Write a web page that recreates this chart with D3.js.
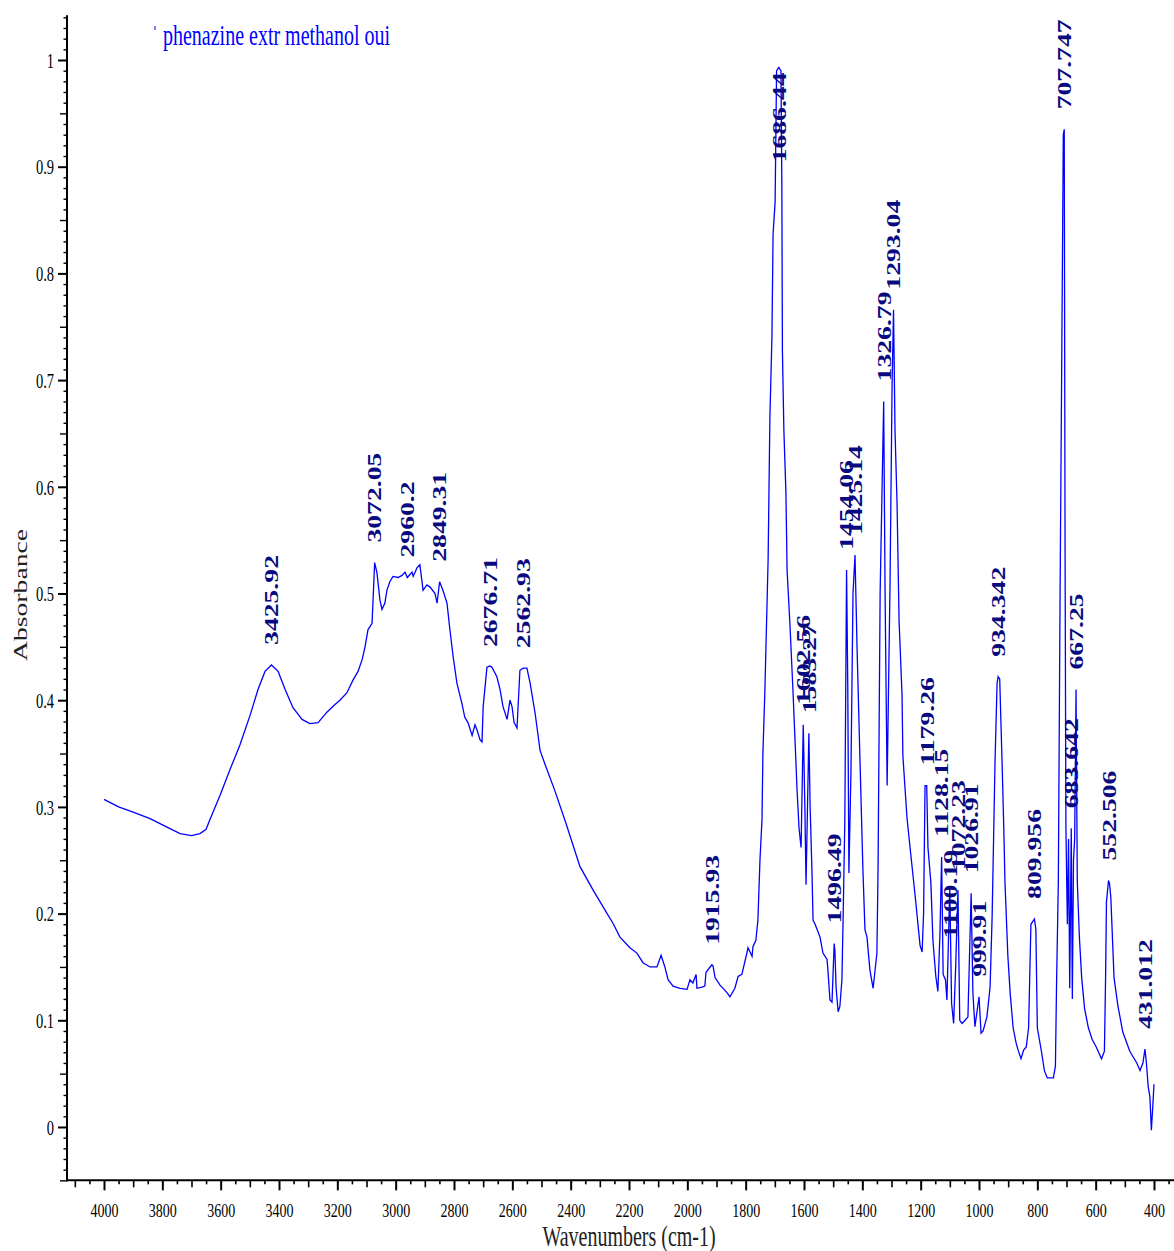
<!DOCTYPE html>
<html>
<head>
<meta charset="utf-8">
<script src="https://cdn.jsdelivr.net/npm/d3@7"></script>
<style>
body { margin: 0; background: #fff; }
text { font-family: "Liberation Serif", "Times New Roman", serif; }
</style>
</head>
<body>
<div id="chart-area"></div>
<script>

// spectrum (cm-1 and absorbance)
var wavenumber = [
	4000, 3950, 3900, 3842, 3784, 3739, 3700, 3671, 3650, 3637, 3602, 3568, 3534, 3499, 3472, 3448, 3425.92, 3403, 3379, 3352,
	3321, 3294, 3266, 3235, 3208, 3191, 3167, 3146, 3129, 3115, 3105, 3095, 3081, 3077, 3072.05, 3064, 3054, 3047, 3037, 3030,
	3020, 3009, 2992, 2978, 2968, 2960.2, 2950, 2944, 2940, 2927, 2917, 2906, 2893, 2882, 2865, 2858, 2849.31, 2838, 2824, 2814,
	2803, 2790, 2773, 2763, 2752, 2738, 2728, 2721, 2711, 2704, 2700, 2687, 2676.71, 2670, 2653, 2642, 2632, 2618, 2608, 2601,
	2594, 2584, 2574, 2562.93, 2550, 2539, 2522, 2505, 2488, 2454, 2419, 2368, 2323, 2275, 2255, 2231, 2197, 2173, 2152, 2128,
	2104, 2090, 2077, 2066, 2049, 2025, 2001, 1991, 1981, 1970, 1967, 1950, 1940, 1936, 1915.93, 1912, 1905, 1888, 1864, 1854,
	1837, 1826, 1813, 1795, 1792, 1778, 1775, 1765, 1758, 1751, 1744, 1741, 1734, 1723, 1717, 1710, 1706, 1699, 1694, 1686.44,
	1679, 1676, 1674, 1669, 1662, 1658, 1648, 1638, 1631, 1624, 1617, 1610, 1602.56, 1597, 1593, 1588, 1583.27, 1579, 1573, 1569,
	1562, 1555, 1545, 1535, 1521, 1518, 1511, 1504, 1496.49, 1494, 1490, 1483, 1477, 1470, 1466, 1460, 1454.06, 1450, 1446, 1439,
	1432, 1425.14, 1418, 1408, 1398, 1391, 1384, 1374, 1363, 1350, 1346, 1339, 1326.79, 1322, 1315, 1305, 1298, 1293.04, 1288, 1281,
	1274, 1264, 1261, 1247, 1233, 1219, 1202, 1195, 1190, 1185, 1179.26, 1175, 1165, 1158, 1148, 1141, 1134, 1128.15, 1123, 1115,
	1110, 1100.19, 1094, 1087, 1080, 1072.23, 1066, 1058, 1048, 1038, 1026.91, 1021, 1014, 999.91, 993, 986, 973, 962, 955, 945,
	938, 934.342, 929, 921, 915, 911, 901, 893, 883, 873, 866, 856, 847, 838, 830, 822, 809.956, 805, 800, 786,
	776, 766, 745, 738, 734, 728, 722, 716, 711, 707.747, 705, 702, 697, 693, 689, 683.642, 680, 676, 672, 667.25,
	663, 656, 648, 638, 625, 612, 598, 580, 570, 566, 563, 556, 552.506, 548, 537, 524, 507, 483, 459, 448,
	438, 431.012, 426, 420, 414, 409, 404, 400
]
var absorbance = [
	0.307, 0.300, 0.295, 0.289, 0.281, 0.275, 0.273, 0.275, 0.279, 0.288, 0.311, 0.335, 0.358, 0.386, 0.410, 0.427, 0.433, 0.427, 0.410, 0.393,
	0.382, 0.378, 0.379, 0.389, 0.396, 0.400, 0.407, 0.419, 0.427, 0.438, 0.450, 0.466, 0.472, 0.497, 0.529, 0.519, 0.494, 0.485, 0.491, 0.503,
	0.511, 0.516, 0.515, 0.517, 0.520, 0.515, 0.518, 0.520, 0.516, 0.524, 0.527, 0.503, 0.508, 0.506, 0.500, 0.491, 0.511, 0.503, 0.491, 0.466,
	0.441, 0.416, 0.397, 0.384, 0.379, 0.367, 0.377, 0.372, 0.363, 0.361, 0.394, 0.431, 0.432, 0.431, 0.422, 0.410, 0.394, 0.382, 0.400, 0.394,
	0.379, 0.374, 0.428, 0.430, 0.430, 0.416, 0.388, 0.353, 0.340, 0.315, 0.287, 0.244, 0.222, 0.200, 0.191, 0.178, 0.168, 0.163, 0.154, 0.150,
	0.150, 0.161, 0.150, 0.138, 0.132, 0.130, 0.129, 0.138, 0.135, 0.143, 0.130, 0.131, 0.132, 0.145, 0.152, 0.151, 0.140, 0.133, 0.126, 0.122,
	0.130, 0.141, 0.143, 0.164, 0.168, 0.160, 0.169, 0.175, 0.194, 0.250, 0.288, 0.349, 0.410, 0.532, 0.664, 0.740, 0.837, 0.867, 0.990, 0.993,
	0.990, 0.885, 0.727, 0.653, 0.595, 0.522, 0.470, 0.410, 0.364, 0.317, 0.280, 0.262, 0.377, 0.300, 0.227, 0.300, 0.369, 0.300, 0.243, 0.194,
	0.190, 0.185, 0.178, 0.163, 0.157, 0.147, 0.119, 0.117, 0.172, 0.165, 0.131, 0.108, 0.113, 0.138, 0.194, 0.288, 0.522, 0.416, 0.238, 0.333,
	0.500, 0.536, 0.448, 0.343, 0.241, 0.185, 0.178, 0.147, 0.130, 0.163, 0.244, 0.500, 0.680, 0.500, 0.320, 0.510, 0.695, 0.766, 0.653, 0.585,
	0.474, 0.406, 0.348, 0.290, 0.253, 0.217, 0.170, 0.164, 0.200, 0.320, 0.320, 0.262, 0.229, 0.175, 0.141, 0.127, 0.180, 0.253, 0.143, 0.138,
	0.119, 0.224, 0.116, 0.097, 0.150, 0.222, 0.100, 0.097, 0.100, 0.103, 0.219, 0.126, 0.094, 0.122, 0.088, 0.090, 0.103, 0.131, 0.197, 0.343,
	0.416, 0.422, 0.420, 0.343, 0.280, 0.230, 0.160, 0.125, 0.093, 0.079, 0.072, 0.064, 0.072, 0.075, 0.093, 0.190, 0.195, 0.185, 0.093, 0.071,
	0.053, 0.046, 0.046, 0.057, 0.136, 0.229, 0.500, 0.730, 0.930, 0.935, 0.550, 0.280, 0.190, 0.270, 0.130, 0.280, 0.120, 0.250, 0.270, 0.410,
	0.230, 0.179, 0.140, 0.111, 0.093, 0.082, 0.075, 0.064, 0.071, 0.140, 0.211, 0.231, 0.228, 0.215, 0.140, 0.114, 0.089, 0.071, 0.060, 0.053,
	0.060, 0.073, 0.060, 0.038, 0.028, -0.003, 0.020, 0.040
]

// peak picks
var peakLabels = ["3425.92", "3072.05", "2960.2", "2849.31", "2676.71", "2562.93", "1915.93", "1686.44", "1602.56", "1583.27",
	"1496.49", "1454.06", "1425.14", "1326.79", "1293.04", "1179.26", "1128.15", "1100.19", "1072.23", "1026.91",
	"999.91", "934.342", "809.956", "707.747", "683.642", "667.25", "552.506", "431.012"]
var peakHeights = [0.433, 0.529, 0.515, 0.511, 0.431, 0.430, 0.152, 0.993, 0.377, 0.369,
	0.172, 0.522, 0.536, 0.680, 0.766, 0.320, 0.253, 0.158, 0.222, 0.219,
	0.122, 0.422, 0.195, 0.935, 0.280, 0.410, 0.231, 0.073]

var xTicks = [4000, 3800, 3600, 3400, 3200, 3000, 2800, 2600, 2400, 2200, 2000, 1800, 1600, 1400, 1200, 1000, 800, 600, 400]
var yTicks = [0, 0.1, 0.2, 0.3, 0.4, 0.5, 0.6, 0.7, 0.8, 0.9, 1]

var titleText = "phenazine extr methanol oui"
var xTitle = "Wavenumbers (cm-1)"
var yTitle = "Absorbance"

var canvasWidth = 1174
var canvasHeight = 1251
var stretch = 1.42   // the picture is taller than it is wide, text included

var x = d3.scaleLinear()
	.domain([4000, 400])
	.range([104, 1154])

var y = d3.scaleLinear()
	.domain([0, 1])
	.range([1127, 60])

var axisLeftX = 67
var axisBottomY = y(-0.05)

var svg = d3.select("#chart-area")
	.append("svg")
	.attr("width", canvasWidth)
	.attr("height", canvasHeight)

// ---- x axis
function xAxisLayer(values, size, labels) {
	var ax = d3.axisBottom(x)
		.tickValues(values)
		.tickSize(size)
		.tickFormat(labels ? d3.format("d") : "")
	var g = svg.append("g")
		.attr("transform", "translate(0," + axisBottomY + ")")
		.call(ax)
	g.select(".domain").remove()
	g.selectAll("line").attr("stroke", "#000").attr("stroke-width", labels ? 2 : 1.6)
	return g
}

var xMinor = d3.range(4100, 349, -50).filter(function(d){ return d % 100 != 0 })
var xMid = d3.range(4100, 349, -100).filter(function(d){ return d % 200 != 0 })
xAxisLayer(xMinor, 4, false)
xAxisLayer(xMid, 7, false)
var xg = xAxisLayer(xTicks, 10, true)
xg.selectAll("text")
	.attr("y", null)
	.attr("dy", "0.35em")
	.attr("transform", "translate(0,30) scale(1," + stretch + ")")
	.attr("fill", "#000")
	.attr("font-size", "14px")

svg.append("line")
	.attr("x1", axisLeftX - 1).attr("x2", canvasWidth)
	.attr("y1", axisBottomY).attr("y2", axisBottomY)
	.attr("stroke", "#000").attr("stroke-width", 2)

// ---- y axis
function yAxisLayer(values, size, labels) {
	var ax = d3.axisLeft(y)
		.tickValues(values)
		.tickSize(size)
		.tickFormat(labels ? d3.format("~g") : "")
	var g = svg.append("g")
		.attr("transform", "translate(" + axisLeftX + ",0)")
		.call(ax)
	g.select(".domain").remove()
	g.selectAll("line").attr("stroke", "#000").attr("stroke-width", labels ? 2 : 1.4)
	return g
}

var yAll = d3.range(-5, 105).map(function(d){ return d / 100 })
yAxisLayer(yAll.filter(function(d, i){ return (i % 5) != 0 }), 3.5, false)
yAxisLayer(yAll.filter(function(d, i){ return (i % 5) == 0 && (i % 10) != 5 }), 7, false)
var yg = yAxisLayer(yTicks, 9, true)
yg.selectAll("text")
	.attr("x", null)
	.attr("dy", "0.35em")
	.attr("text-anchor", "end")
	.attr("transform", "translate(-13,0) scale(1," + stretch + ")")
	.attr("fill", "#000")
	.attr("font-size", "14.5px")

svg.append("line")
	.attr("x1", axisLeftX).attr("x2", axisLeftX)
	.attr("y1", y(1.042)).attr("y2", axisBottomY + 1)
	.attr("stroke", "#000").attr("stroke-width", 2)

// ---- axis titles
svg.append("text")
	.attr("transform", "translate(629,1246) scale(1," + stretch + ")")
	.attr("text-anchor", "middle")
	.attr("font-size", "20px")
	.attr("fill", "#222")
	.text(xTitle)

svg.append("text")
	.attr("transform", "translate(20,595) rotate(-90) scale(" + stretch + ",1)")
	.attr("text-anchor", "middle")
	.attr("dy", "0.35em")
	.attr("font-size", "19.5px")
	.attr("fill", "#222")
	.text(yTitle)

// ---- legend / title
svg.append("line")
	.attr("x1", 155).attr("x2", 155)
	.attr("y1", 26).attr("y2", 30)
	.attr("stroke", "#0000ff").attr("stroke-width", 1)

svg.append("text")
	.attr("transform", "translate(163,45) scale(1," + stretch + ")")
	.attr("font-size", "20px")
	.attr("fill", "#0000ff")
	.text(titleText)

// ---- spectrum
var spectrum = wavenumber.map(function(d, i){ return [d, absorbance[i]] })

var line = d3.line()
	.x(function(d){ return x(d[0]) })
	.y(function(d){ return y(d[1]) })

svg.append("path")
	.datum(spectrum)
	.attr("d", line)
	.attr("fill", "none")
	.attr("stroke", "#0000ff")
	.attr("stroke-width", 1.3)
	.attr("stroke-linejoin", "miter")

// ---- peak labels
var plotTop = y(1.042)
peakLabels.forEach(function(label, i){
	var px = x(+label)
	var py = y(peakHeights[i])
	var g = svg.append("g")
	var t = g.append("text")
		.attr("font-size", "19.5px")
		.attr("font-weight", "bold")
		.attr("fill", "#0a0a80")
		.attr("dy", "0.35em")
		.text(label)
	var len = t.node().getComputedTextLength() * stretch
	var base = py - 20
	if (base - len < plotTop) {
		// no room above the peak: hang the label below its top
		t.attr("text-anchor", "end")
		base = py + 5
	}
	g.attr("transform", "translate(" + px + "," + base + ") rotate(-90) scale(" + stretch + ",1)")
})

</script>
</body>
</html>
